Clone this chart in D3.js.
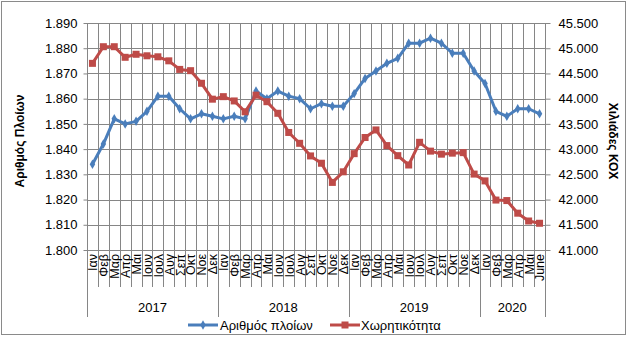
<!DOCTYPE html>
<html><head><meta charset="utf-8">
<script src="https://cdn.jsdelivr.net/npm/d3@7"></script>
<style>body{margin:0;background:#fff}svg{display:block}text{font-family:"Liberation Sans",Arial,sans-serif;fill:#000}</style>
</head><body>
<svg id="c" width="628" height="337"></svg>
<script>
const years = ["2017","2018","2019","2020"];
const months = [
 "Ιαν","Φεβ","Μαρ","Απρ","Μαι","Ιουν","Ιουλ","Αυγ","Σεπ","Οκτ","Νοε","Δεκ",
 "Ιαν","Φεβ","Μαρ","Απρ","Μαι","Ιουν","Ιουλ","Αυγ","Σεπ","Οκτ","Νοε","Δεκ",
 "Ιαν","Φεβ","Μαρ","Απρ","Μαι","Ιουν","Ιουλ","Αυγ","Σεπ","Οκτ","Νοε","Δεκ",
 "Ιαν","Φεβ","Μαρ","Απρ","Μαι","June"];
const monthYear = [
 "2017","2017","2017","2017","2017","2017","2017","2017","2017","2017","2017","2017",
 "2018","2018","2018","2018","2018","2018","2018","2018","2018","2018","2018","2018",
 "2019","2019","2019","2019","2019","2019","2019","2019","2019","2019","2019","2019",
 "2020","2020","2020","2020","2020","2020"];
const ships = [1834,1842,1852,1850,1851,1855,1861,1861,1856,1852,1854,1853,
 1852,1853,1852,1863,1860,1863,1861,1860,1856,1858,1857,1857,
 1862,1868,1871,1874,1876,1882,1882,1884,1882,1878,1878,1871,
 1866,1855,1853,1856,1856,1854];
const capacity = [44700,45030,45030,44820,44880,44850,44830,44750,44580,44555,44305,43990,
 44040,43955,43740,44070,43940,43710,43330,43115,42865,42720,42340,42550,
 42910,43230,43380,43070,42870,42685,43135,42960,42900,42920,42930,42505,
 42370,41990,41980,41730,41575,41530];
const leftTicks = [1800,1810,1820,1830,1840,1850,1860,1870,1880,1890];
const rightTicks = [41000,41500,42000,42500,43000,43500,44000,44500,45000,45500];
const seriesNames = ["Αριθμός πλοίων","Χωρητικότητα"];
const leftTitle = "Αριθμός Πλοίων";
const rightTitle = "Χιλιάδες ΚΟΧ";

const blue = "#4a7ebb", red = "#be4b48", grid = "#868686";
const L = 87, R = 545, T = 23, B = 250;
const svg = d3.select("#c");
svg.append("rect").attr("x",1.5).attr("y",1.5).attr("width",624).attr("height",333)
  .attr("fill","#fff").attr("stroke","#8a8a8a").attr("stroke-width",1);

const idx = d3.range(months.length);
const x = d3.scaleBand().domain(idx).range([L,R]).padding(0);
const yL = d3.scaleLinear().domain([1800,1890]).range([B,T]);
const yR = d3.scaleLinear().domain([41000,45500]).range([B,T]);
const loc = d3.formatLocale({decimal:",",thousands:".",grouping:[3],currency:["",""]});
const fmt = loc.format(",");

// horizontal gridlines
svg.append("g").selectAll("line").data(leftTicks).join("line")
  .attr("x1",L).attr("x2",R).attr("y1",d=>Math.round(yL(d))+0.5).attr("y2",d=>Math.round(yL(d))+0.5)
  .attr("stroke",grid).attr("stroke-width",1);
// vertical gridlines at category boundaries
svg.append("g").selectAll("line").data(d3.range(1,months.length)).join("line")
  .attr("x1",d=>Math.round(x(d))+0.5).attr("x2",d=>Math.round(x(d))+0.5).attr("y1",T).attr("y2",B)
  .attr("stroke",grid).attr("stroke-width",1);

// left axis
const gl = svg.append("g").attr("transform",`translate(${L+0.5},0)`)
  .call(d3.axisLeft(yL).tickValues(leftTicks).tickFormat(fmt).tickSize(4).tickPadding(6));
gl.select(".domain").attr("stroke",grid).attr("d",`M0,${T}V${B+0.5}`);
gl.selectAll(".tick line").attr("stroke",grid);
gl.selectAll(".tick text").attr("font-size",13).attr("font-family","Liberation Sans, Arial");

// right axis
const gr = svg.append("g").attr("transform",`translate(${R+0.5},0)`)
  .call(d3.axisRight(yR).tickValues(rightTicks).tickFormat(fmt).tickSize(5).tickPadding(8));
gr.select(".domain").attr("stroke",grid).attr("d",`M0,${T}V${B}`);
gr.selectAll(".tick line").attr("stroke",grid);
gr.selectAll(".tick text").attr("font-size",13).attr("font-family","Liberation Sans, Arial");

// bottom category axis: month boundaries
const bx = svg.append("g");
bx.append("line").attr("x1",L).attr("x2",R).attr("y1",B+0.5).attr("y2",B+0.5).attr("stroke",grid);
bx.selectAll("line.m").data(d3.range(0,months.length+1)).join("line").attr("class","m")
  .attr("x1",d=>Math.round(d===months.length?R:x(d))+0.5).attr("x2",d=>Math.round(d===months.length?R:x(d))+0.5)
  .attr("y1",B).attr("y2",d=>(d===0||d===months.length||monthYear[d]!==monthYear[d-1])?317:287)
  .attr("stroke",grid);
bx.selectAll("text.m").data(idx).join("text").attr("class","m")
  .attr("transform",d=>`translate(${x(d)+x.bandwidth()/2+0.5},${B+4}) rotate(-90)`)
  .attr("text-anchor","end").attr("dy","0.35em").attr("font-size",12.5)
  .text(d=>months[d]);
// year labels
bx.selectAll("text.y").data(years).join("text").attr("class","y")
  .attr("x",yy=>{const ii=idx.filter(i=>monthYear[i]===yy);return (x(ii[0])+x(ii[ii.length-1])+x.bandwidth())/2;})
  .attr("y",312).attr("text-anchor","middle").attr("font-size",13).text(d=>d);

// lines
const lineL = d3.line().x((d,i)=>x(i)+x.bandwidth()/2).y(d=>yL(d));
const lineR = d3.line().x((d,i)=>x(i)+x.bandwidth()/2).y(d=>yR(d));
svg.append("path").datum(ships).attr("d",lineL).attr("fill","none").attr("stroke",blue).attr("stroke-width",3).attr("stroke-linejoin","round");
svg.append("path").datum(capacity).attr("d",lineR).attr("fill","none").attr("stroke",red).attr("stroke-width",3).attr("stroke-linejoin","round");
const diamond = d3.symbol().type(d3.symbolDiamond).size(26);
svg.append("g").selectAll("path").data(ships).join("path")
  .attr("transform",(d,i)=>`translate(${x(i)+x.bandwidth()/2},${yL(d)})`).attr("d",diamond).attr("fill",blue);
svg.append("g").selectAll("rect").data(capacity).join("rect")
  .attr("x",(d,i)=>x(i)+x.bandwidth()/2-3.5).attr("y",d=>yR(d)-3.5).attr("width",7).attr("height",7).attr("fill",red);

// axis titles
svg.append("text").attr("transform","translate(20,141) rotate(-90)").attr("text-anchor","middle")
  .attr("dy","0.35em").attr("font-size",12).attr("font-weight","bold").text(leftTitle);
svg.append("text").attr("transform","translate(613,141) rotate(90)").attr("text-anchor","middle")
  .attr("dy","0.35em").attr("font-size",12).attr("font-weight","bold").text(rightTitle);

// legend
const lg = svg.append("g");
lg.append("line").attr("x1",188).attr("x2",218).attr("y1",325).attr("y2",325).attr("stroke",blue).attr("stroke-width",3);
lg.append("path").attr("transform","translate(203,325)").attr("d",diamond).attr("fill",blue);
lg.append("text").attr("x",220).attr("y",325).attr("dy","0.35em").attr("font-size",13).text(seriesNames[0]);
lg.append("line").attr("x1",330).attr("x2",360).attr("y1",325).attr("y2",325).attr("stroke",red).attr("stroke-width",3);
lg.append("rect").attr("x",341.5).attr("y",321.5).attr("width",7).attr("height",7).attr("fill",red);
lg.append("text").attr("x",361).attr("y",325).attr("dy","0.35em").attr("font-size",13).text(seriesNames[1]);
</script>
</body></html>
